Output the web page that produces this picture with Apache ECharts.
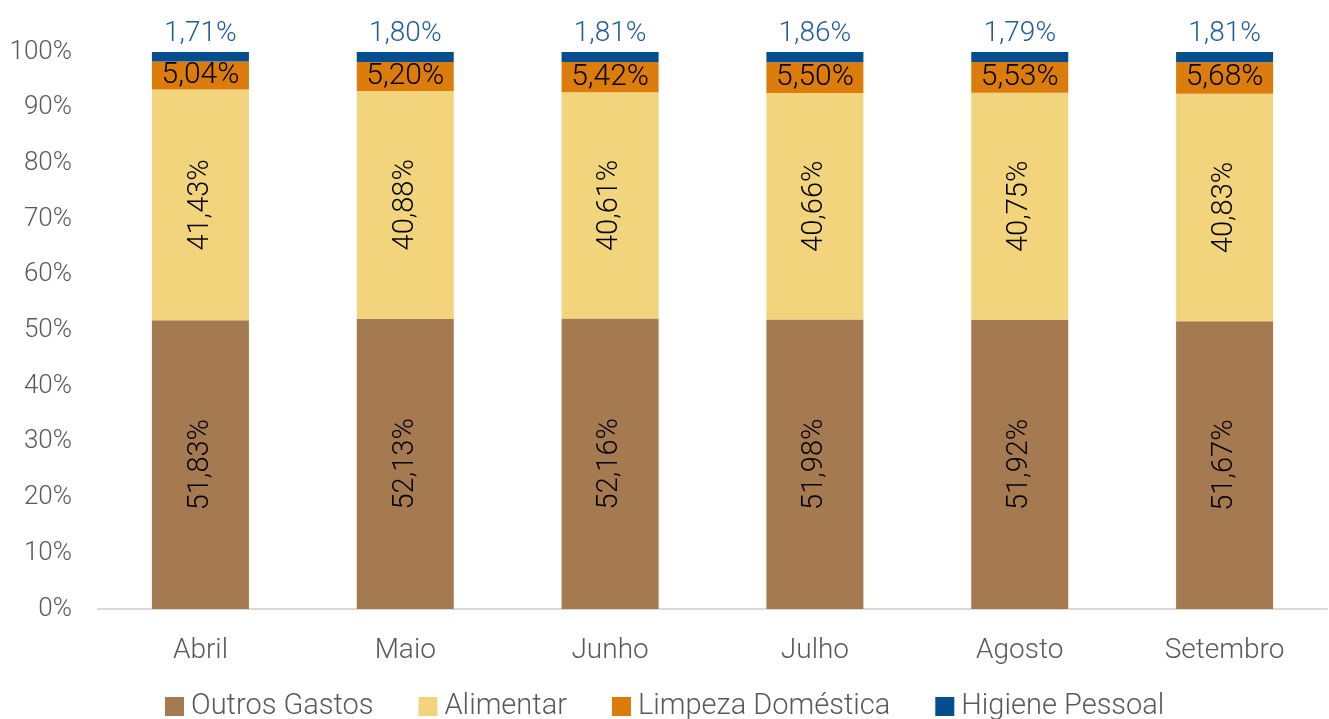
<!DOCTYPE html>
<html><head><meta charset="utf-8">
<script src="https://cdn.jsdelivr.net/npm/echarts@6/dist/echarts.min.js"></script>
<style>html,body{margin:0;padding:0;background:#fff}#c{width:1329px;height:719px}</style>
</head><body><div id="c"></div>
<script>
const categories = ['Abril','Maio','Junho','Julho','Agosto','Setembro'];
const outrosGastos = [51.83,52.13,52.16,51.98,51.92,51.67];
const alimentar = [41.43,40.88,40.61,40.66,40.75,40.83];
const limpeza = [5.04,5.20,5.42,5.50,5.53,5.68];
const higiene = [1.71,1.80,1.81,1.86,1.79,1.81];
const yTicks = [0,10,20,30,40,50,60,70,80,90,100];

const FONT = 'Roboto';
const fmt = v => v.toFixed(2).replace('.', ',') + '%';
function ser(name, data, color, label) {
  return {name, type:'bar', stack:'s', data, barWidth:97,
    itemStyle:{color}, label: Object.assign({show:true, fontFamily:FONT, fontWeight:300, fontSize:29, color:'#000',
      formatter:p=>fmt(p.value)}, label)};
}
const chart = echarts.init(document.getElementById('c'));
chart.setOption({
  animation:false,
  textStyle:{fontFamily:FONT},
  grid:{left:98, right:2, top:52, bottom:110, containLabel:false},
  xAxis:{type:'category', data:categories,
    axisLine:{lineStyle:{color:'#D9D9D9', width:2}}, axisTick:{show:false},
    axisLabel:{fontFamily:FONT, fontWeight:300, fontSize:28, color:'#595959', margin:28}},
  yAxis:{type:'value', min:0, max:100, interval:10,
    axisLabel:{fontFamily:FONT, fontWeight:300, fontSize:26, color:'#595959', margin:26,
      formatter:v=> yTicks.includes(v) ? v+'%' : ''},
    splitLine:{show:false}, axisLine:{show:false}, axisTick:{show:false}},
  legend:{bottom:-7, left:160, itemWidth:19, itemHeight:19, itemGap:45, icon:'rect',
    textStyle:{fontFamily:FONT, fontWeight:300, fontSize:29, color:'#595959', padding:[0,0,0,2]}},
  series:[
    ser('Outros Gastos', outrosGastos, '#A67A50', {position:'inside', rotate:90}),
    ser('Alimentar', alimentar, '#F2D47C', {position:'inside', rotate:90}),
    ser('Limpeza Doméstica', limpeza, '#DB7C0C', {position:'inside', fontSize:30}),
    ser('Higiene Pessoal', higiene, '#034E8E', {position:'top', color:'#1F5C99', distance:4, fontSize:28})
  ]
});
</script></body></html>
